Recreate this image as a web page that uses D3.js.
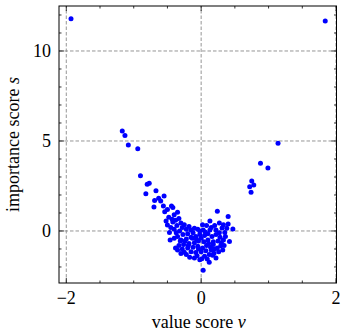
<!DOCTYPE html>
<html>
<head>
<meta charset="utf-8">
<script src="https://cdn.jsdelivr.net/npm/d3@7"></script>
<style>
  body { margin: 0; background: #fff; }
  text { font-family: "Liberation Serif", "DejaVu Serif", serif; fill: #000; }
</style>
</head>
<body>
<div id="chart"></div>
<script>
// value score v and importance score s, one entry per point
const valueScores = [
  -1.93, 1.84,
  -1.17, -1.13, -1.08, -0.94,
  1.14, 0.88, 0.99,
  0.75, 0.78, 0.72, 0.74,
  -0.90, -0.80, -0.77, -0.82, -0.67, -0.69, -0.63, -0.55, -0.70, -0.60,
  -0.56, -0.54, -0.50, -0.48, -0.50, -0.47, -0.46, -0.44, -0.35, -0.42,
  0.24, 0.13, 0.40, 0.40, 0.47, 0.31, 0.22, 0.13, 0.03, 0.35,
  0.42, 0.29, 0.20, 0.12, 0.01, 0.03, 0.22, 0.19, -0.06, -0.17,
  -0.25, -0.35,
  -0.40, -0.38, -0.42, -0.33, -0.30, -0.36, -0.28, -0.40, -0.32, -0.25,
  -0.22, -0.18, -0.15, -0.10, -0.05, -0.12, -0.20, -0.27, -0.35, -0.40,
  -0.30, -0.22, -0.15, -0.08, -0.02, 0.05, 0.10, 0.16, 0.22, 0.28,
  0.33, 0.25, 0.18, 0.10, 0.04, -0.04, -0.10, -0.18, -0.26, -0.33,
  -0.38, -0.28, -0.20, -0.12, -0.05, 0.02, 0.08, 0.14, 0.24, 0.30,
  0.36, 0.38, 0.33, 0.27, 0.20, 0.15, 0.08, 0.02, 0.06, -0.02,
  -0.15, -0.08, 0.00, 0.07, 0.12, 0.05, -0.02, -0.10, 0.09, 0.15,
  -0.22, -0.30, -0.04, 0.26, 0.32, -0.45, -0.37, -0.24, -0.13, -0.07,
  0.11, 0.18, 0.27, -0.31, -0.19, 0.00, 0.17, -0.43, -0.52, 0.34
];
const importanceScores = [
  11.79, 11.67,
  5.56, 5.30, 4.78, 4.57,
  4.87, 3.76, 3.50,
  2.78, 2.56, 2.46, 2.15,
  3.07, 2.60, 2.65, 2.07, 2.24, 1.70, 1.82, 1.94, 1.33, 1.67,
  1.39, 1.07, 1.20, 0.76, 0.33, -0.09, -0.50, 1.39, 1.04, 1.30,
  1.09, 0.56, 0.80, 0.39, 0.11, 0.17, 0.06, 0.06, 0.05, -0.09,
  -0.59, -0.82, -1.00, -1.74, -1.54, -2.18, -1.50, -1.24, -1.37, -1.46,
  -1.18, -1.06,
  0.90, 0.60, 0.50, 0.70, 0.45, 0.30, 0.20, 0.10, 0.00, 0.35,
  0.10, 0.25, 0.05, 0.15, 0.10, -0.10, -0.15, -0.20, -0.30, -0.40,
  -0.50, -0.45, -0.35, -0.30, -0.20, -0.25, -0.15, -0.30, -0.20, -0.35,
  -0.50, -0.55, -0.60, -0.50, -0.60, -0.55, -0.65, -0.70, -0.75, -0.80,
  -0.95, -1.00, -0.95, -0.90, -0.85, -0.95, -0.80, -0.90, -0.95, -0.65,
  -0.30, 0.15, 0.35, 0.45, 0.30, 0.20, 0.30, 0.35, -0.05, 0.00,
  -1.15, -1.20, -1.15, -1.10, -1.30, -1.40, -1.60, -1.50, -1.55, -1.05,
  -1.30, -1.25, -1.00, -1.15, -1.05, 0.20, -0.10, -0.55, -0.40, -0.45,
  -0.70, -0.75, -0.10, -0.55, -0.80, -0.40, -1.35, 0.65, 0.55, -0.80
];
const xTicks = [-2, 0, 2];
const yTicks = [0, 5, 10];

const width = 342;
const height = 333;
const margin = { top: 6, right: 5.5, bottom: 50, left: 59 };

const points = valueScores.map((v, i) => ({ v: v, s: importanceScores[i] }));

const svg = d3.select('#chart')
  .append('svg')
  .attr('width', width)
  .attr('height', height);

const x = d3.scaleLinear()
  .domain([-2.108, 2.007])
  .range([margin.left, width - margin.right]);

const y = d3.scaleLinear()
  .domain([-2.89, 12.5])
  .range([height - margin.bottom, margin.top]);

const x0 = margin.left, x1 = width - margin.right;
const y0 = height - margin.bottom, y1 = margin.top;

// dashed grid
svg.append('g')
  .selectAll('line')
  .data(yTicks)
  .enter()
  .append('line')
  .attr('x1', x0).attr('x2', x1)
  .attr('y1', d => y(d)).attr('y2', d => y(d))
  .attr('stroke', '#8a8a8a')
  .attr('stroke-width', 0.9)
  .attr('stroke-dasharray', '3.5,2');

svg.append('g')
  .selectAll('line')
  .data(xTicks)
  .enter()
  .append('line')
  .attr('x1', d => x(d)).attr('x2', d => x(d))
  .attr('y1', y0).attr('y2', y1)
  .attr('stroke', '#8a8a8a')
  .attr('stroke-width', 0.9)
  .attr('stroke-dasharray', '3.5,2');

// points
svg.append('g')
  .selectAll('circle')
  .data(points)
  .enter()
  .append('circle')
  .attr('cx', d => x(d.v))
  .attr('cy', d => y(d.s))
  .attr('r', 2.5)
  .attr('fill', '#0000ff');

// inward ticks on all four sides
const xMinor = d3.range(-2, 2.01, 0.5);
const yMinor = d3.range(-2, 12.5, 1);
const tickG = svg.append('g').attr('stroke', '#000').attr('stroke-width', 0.8);

xMinor.forEach(t => {
  const len = xTicks.includes(t) ? 5 : 2.5;
  tickG.append('line').attr('x1', x(t)).attr('x2', x(t)).attr('y1', y0).attr('y2', y0 - len);
  tickG.append('line').attr('x1', x(t)).attr('x2', x(t)).attr('y1', y1).attr('y2', y1 + len);
});
yMinor.forEach(t => {
  const len = yTicks.includes(t) ? 5 : 2.5;
  tickG.append('line').attr('y1', y(t)).attr('y2', y(t)).attr('x1', x0).attr('x2', x0 + len);
  tickG.append('line').attr('y1', y(t)).attr('y2', y(t)).attr('x1', x1).attr('x2', x1 - len);
});

// frame
svg.append('rect')
  .attr('x', x0).attr('y', y1)
  .attr('width', x1 - x0).attr('height', y0 - y1)
  .attr('fill', 'none')
  .attr('stroke', '#000')
  .attr('stroke-width', 1);

// tick labels
svg.append('g')
  .selectAll('text')
  .data(xTicks)
  .enter()
  .append('text')
  .attr('x', d => x(d))
  .attr('y', 304)
  .attr('text-anchor', 'middle')
  .attr('font-size', 18)
  .text(d => d < 0 ? '\u2212' + Math.abs(d) : d);

svg.append('g')
  .selectAll('text')
  .data(yTicks)
  .enter()
  .append('text')
  .attr('x', 51)
  .attr('y', d => y(d) + 6)
  .attr('text-anchor', 'end')
  .attr('font-size', 18)
  .text(d => d);

// axis titles
const xTitle = svg.append('text')
  .attr('x', (x0 + x1) / 2 + 1)
  .attr('y', 328)
  .attr('text-anchor', 'middle')
  .attr('font-size', 18);
xTitle.append('tspan').text('value score ');
xTitle.append('tspan').attr('font-style', 'italic').text('v');

const yTitle = svg.append('text')
  .attr('transform', `translate(19,${(y0 + y1) / 2}) rotate(-90)`)
  .attr('text-anchor', 'middle')
  .attr('font-size', 18);
yTitle.append('tspan').text('importance score ');
yTitle.append('tspan').attr('font-style', 'italic').text('s');
</script>
</body>
</html>
